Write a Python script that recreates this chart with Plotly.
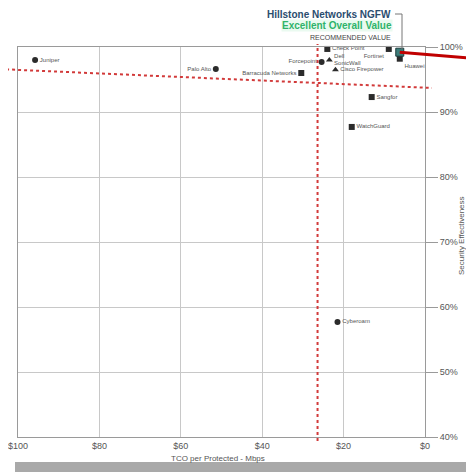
import plotly.graph_objects as go

# ---- data ----
vendors = ["Juniper", "Palo Alto", "Barracuda Networks", "Forcepoint", "Check Point",
           "Dell<br>SonicWall", "Cisco Firepower", "Fortinet", "Huawei",
           "Sangfor", "WatchGuard", "Cyberoam"]
tco_price = [95.8, 51.4, 30.4, 25.4, 24.0, 23.5, 22.0, 8.9, 6.2, 13.1, 18.0, 21.5]
security = [98.0, 96.6, 96.0, 97.7, 99.7, 98.0, 96.5, 99.7, 98.2, 92.3, 87.7, 57.7]
symbols = ["circle", "circle", "square", "circle", "square", "triangle-up", "triangle-up",
           "square", "square", "square", "square", "circle"]
label_pos = ["middle right", "middle left", "middle left", "middle left", "middle right",
             "middle right", "middle right", "bottom left", "bottom right",
             "middle right", "middle right", "middle right"]

highlight_vendor = ["Hillstone Networks NGFW"]
highlight_price = [6.2]
highlight_security = [99.2]

avg_price = [26.4]
avg_security_line_x = [104.4, -1.7]
avg_security_line_y = [96.6, 93.7]

x_ticks = [100, 80, 60, 40, 20, 0]
x_tick_labels = ["$100", "$80", "$60", "$40", "$20", "$0"]
y_ticks = [40, 50, 60, 70, 80, 90, 100]
y_tick_labels = ["40%", "50%", "60%", "70%", "80%", "90%", "100%"]

OFF = 8  # page body margin
W, H = 474, 472
L, T = 18 - OFF, 47 - OFF
pw, ph = 407, 390
R = W - L - pw
B = H - T - ph
FONT = "Arial, Liberation Sans"


def px_x(p):
    # screen pixel -> paper x
    return (p - OFF - L) / pw


def px_y(p):
    # screen pixel -> paper y
    return (T + ph - (p - OFF)) / ph


def data_to_paper_x(v):
    return (100 - v) / 100.0


fig = go.Figure()

fig.add_trace(go.Scatter(
    x=tco_price, y=security, mode="markers+text",
    text=vendors, textposition=label_pos,
    marker=dict(symbol=symbols, size=6, color="#2b2b2b"),
    textfont=dict(size=6, color="#555555", family=FONT),
    cliponaxis=False, showlegend=False, hoverinfo="text"))

fig.add_trace(go.Scatter(
    x=highlight_price, y=highlight_security, mode="markers",
    marker=dict(symbol="square", size=8, color="#3c7d7a", line=dict(color="#1d3d3d", width=1)),
    cliponaxis=False, showlegend=False, text=highlight_vendor, hoverinfo="text"))

shapes = []
shapes.append(dict(type="line", xref="paper", yref="y",
                   x0=data_to_paper_x(avg_security_line_x[0]),
                   x1=data_to_paper_x(avg_security_line_x[1]),
                   y0=avg_security_line_y[0], y1=avg_security_line_y[1],
                   line=dict(color="#d23a3a", width=2, dash="dot"), layer="above"))
shapes.append(dict(type="line", xref="x", yref="paper",
                   x0=avg_price[0], x1=avg_price[0], y0=px_y(441), y1=px_y(44),
                   line=dict(color="#d23a3a", width=2, dash="dot"), layer="above"))
shapes.append(dict(type="line", xref="paper", yref="y",
                   x0=data_to_paper_x(highlight_price[0]), x1=px_x(476),
                   y0=highlight_security[0], y1=highlight_security[0] - 1.0,
                   line=dict(color="#c00000", width=3), layer="above"))
shapes.append(dict(type="line", xref="paper", yref="paper",
                   x0=px_x(395), x1=px_x(402), y0=px_y(14), y1=px_y(14),
                   line=dict(color="#777777", width=1)))
shapes.append(dict(type="line", xref="paper", yref="paper",
                   x0=px_x(402), x1=px_x(402), y0=px_y(14), y1=px_y(49),
                   line=dict(color="#777777", width=1)))
shapes.append(dict(type="rect", xref="paper", yref="paper",
                   x0=px_x(15), x1=px_x(480), y0=px_y(474), y1=px_y(462),
                   line=dict(width=0), fillcolor="#a9a9a9"))

annotations = [
    dict(xref="paper", yref="paper", x=px_x(393), y=px_y(14), xanchor="right", yanchor="middle",
         text="<b>Hillstone Networks NGFW</b>", showarrow=False,
         font=dict(size=10, color="#2a4d6e", family=FONT)),
    dict(xref="paper", yref="paper", x=px_x(393), y=px_y(26), xanchor="right", yanchor="middle",
         text="<b>Excellent Overall Value</b>", showarrow=False, bgcolor="#eafaf0",
         borderpad=0,
         font=dict(size=10, color="#2fb36a", family=FONT)),
    dict(xref="paper", yref="paper", x=px_x(393), y=px_y(37), xanchor="right", yanchor="middle",
         text="RECOMMENDED VALUE", showarrow=False,
         font=dict(size=7, color="#444444", family=FONT)),
    dict(xref="paper", yref="paper", x=px_x(218), y=px_y(458), xanchor="center", yanchor="middle",
         text="TCO per Protected - Mbps", showarrow=False,
         font=dict(size=8, color="#555555", family=FONT)),
    dict(xref="paper", yref="paper", x=px_x(462), y=px_y(235), xanchor="center", yanchor="middle",
         text="Security Effectiveness", showarrow=False, textangle=-90,
         font=dict(size=8, color="#555555", family=FONT)),
]

fig.update_layout(
    width=W, height=H, margin=dict(l=L, r=R, t=T, b=B, autoexpand=False),
    paper_bgcolor="white", plot_bgcolor="white",
    shapes=shapes, annotations=annotations,
    xaxis=dict(range=[100, 0], tickvals=x_ticks, ticktext=x_tick_labels, showgrid=True,
               gridcolor="#c8c8c8", gridwidth=1, showline=True, linecolor="#9a9a9a",
               mirror=True, zeroline=False, ticks="", ticklabeloverflow="allow",
               automargin=False,
               tickfont=dict(size=9, color="#555555", family=FONT)),
    yaxis=dict(range=[40, 100], tickvals=y_ticks, ticktext=y_tick_labels, side="right",
               showgrid=True, gridcolor="#c8c8c8", gridwidth=1, showline=True,
               linecolor="#9a9a9a", mirror=True, zeroline=False, ticks="outside",
               ticklen=12, tickcolor="#9a9a9a", automargin=False,
               tickfont=dict(size=9, color="#555555", family=FONT)),
)

fig.write_html("out.html")
